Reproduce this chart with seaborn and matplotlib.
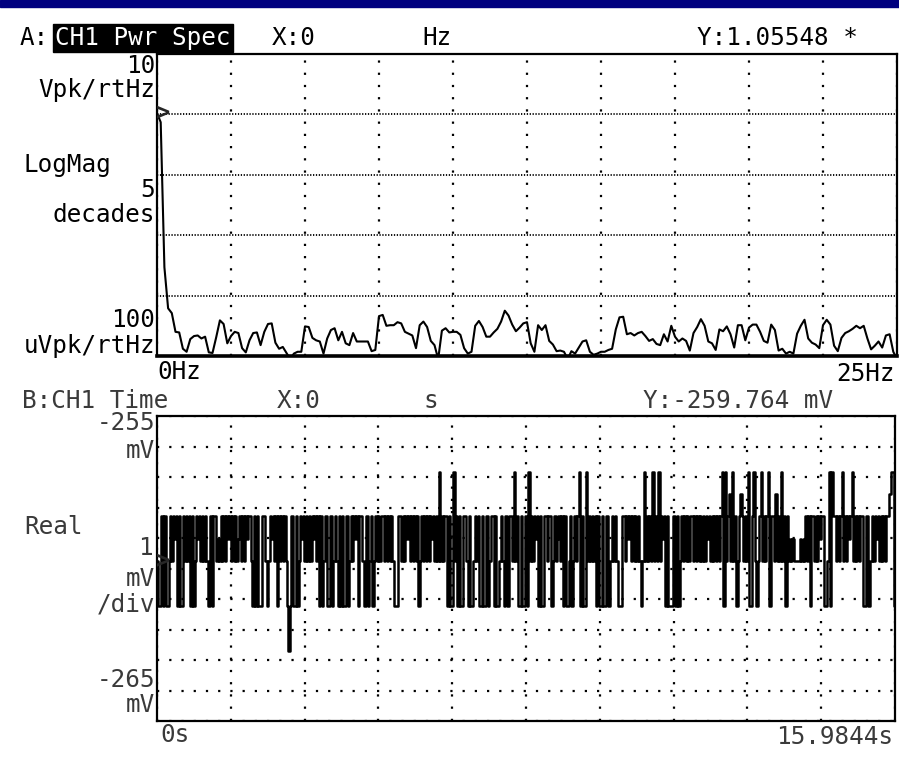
import numpy as np
import pandas as pd
import matplotlib
matplotlib.use("Agg")
import matplotlib.pyplot as plt
from matplotlib.patches import Rectangle
import seaborn as sns

# ---- trace A: CH1 power spectrum, 0..25 Hz ----
span_hz = 25.0
dc_level = 1.05548          # Vpk/rtHz at 0 Hz (cursor readout)
# log10(Vpk/rtHz) of the following lines, 0.125 Hz apart
spec_exp = [
    -0.13, -2.53, -3.21, -3.29, -3.60, -3.61, -3.88, -3.93, -3.72, -3.67,
    -3.66, -3.71, -3.68, -3.94, -3.95, -3.69, -3.41, -3.47, -3.79, -3.67,
    -3.60, -3.62, -3.87, -3.94, -3.74, -3.62, -3.61, -3.82, -3.60, -3.47,
    -3.46, -3.78, -3.88, -3.85, -3.95, -4.05, -3.96, -3.93, -3.93, -3.51,
    -3.52, -3.70, -3.74, -3.76, -3.96, -3.71, -3.57, -3.54, -3.74, -3.60,
    -3.79, -3.82, -3.62, -3.76, -3.76, -3.76, -3.76, -3.92, -3.90, -3.34,
    -3.32, -3.50, -3.49, -3.49, -3.44, -3.46, -3.60, -3.63, -3.66, -3.87,
    -3.49, -3.43, -3.52, -3.75, -3.82, -4.05, -3.58, -3.54, -3.61, -3.60,
    -3.60, -3.65, -3.87, -3.96, -3.93, -3.50, -3.42, -3.52, -3.68, -3.68,
    -3.61, -3.55, -3.43, -3.25, -3.33, -3.48, -3.59, -3.53, -3.46, -3.44,
    -3.79, -3.93, -3.49, -3.57, -3.49, -3.75, -3.81, -3.92, -3.91, -3.93,
    -4.05, -3.92, -3.96, -3.86, -3.76, -3.74, -3.93, -3.98, -3.96, -3.93,
    -3.93, -3.90, -3.88, -3.56, -3.36, -3.35, -3.64, -3.62, -3.66, -3.62,
    -3.60, -3.67, -3.75, -3.72, -3.80, -3.82, -3.64, -3.76, -3.50, -3.68,
    -3.76, -3.71, -3.75, -3.91, -3.62, -3.52, -3.39, -3.50, -3.76, -3.79,
    -3.90, -3.56, -3.59, -3.51, -3.64, -3.86, -3.49, -3.49, -3.74, -3.53,
    -3.48, -3.48, -3.60, -3.75, -3.78, -3.48, -3.57, -3.91, -3.88, -3.96,
    -3.93, -3.96, -3.63, -3.50, -3.40, -3.71, -3.78, -3.81, -3.87, -3.49,
    -3.40, -3.48, -3.83, -3.92, -3.70, -3.62, -3.59, -3.55, -3.50, -3.54,
    -3.50, -3.71, -3.89, -3.83, -3.76, -3.86, -3.66, -3.64, -3.93, -4.05,
]

# ---- trace B: CH1 time record, 0..15.9844 s ----
span_s = 15.9844
cursor_mv = -259.764        # value of the first sample (cursor readout)
lsb_mv = 0.735              # ADC step
# one digit per sample; digit 4 is the cursor level, each unit is one ADC step
time_codes = (
    "4226262246465626226464626246564646422626645464646564646456464656"
    "6426262226642465646264646420262262465646464656462624662262464262"
    "6226246465626642262462464646646464642226646465646464624646464656"
    "4648464662622846262266426224646226226246626224642622664846226226"
    "2846465626226646624645646262246246468262284646462622622622464642"
    "2266465646464642484646484648465626222662624646464664646464646564"
    "6464646828467484624676464822684246846468266474648462645454444545"
    "4646266464656622482866464684646568464646622622464656464646678824"
)

freq = np.arange(len(spec_exp) + 1) * span_hz / len(spec_exp)
mag = np.concatenate([[dc_level], 10.0 ** np.array(spec_exp)])
spec_df = pd.DataFrame({"freq_hz": freq, "mag": mag})

n = len(time_codes)
t = np.arange(n) * span_s / (n - 1)
volts = cursor_mv + (np.array([int(c) for c in time_codes]) - 4) * lsb_mv
time_df = pd.DataFrame({"t_s": t, "mv": volts})

sns.set_style("white")
plt.rcParams["font.family"] = ["DejaVu Sans Mono", "DejaVu Sans"]

W, H = 899, 757
fig = plt.figure(figsize=(W / 100, H / 100), dpi=100)
fig.patch.set_facecolor("white")


def fx(px):
    return px / W


def fy(py):
    return 1 - py / H


# title strip
fig.patches.append(Rectangle((0, fy(7)), 1, 7 / H, transform=fig.transFigure,
                             color="#00007f", zorder=0))

ax_a = fig.add_axes([fx(157), fy(356), fx(897) - fx(157), fy(54) - fy(356)])
ax_b = fig.add_axes([fx(157), fy(721), fx(895) - fx(157), fy(416) - fy(721)])

# --- trace A ---
ax_a.set_yscale("log")
sns.lineplot(data=spec_df, x="freq_hz", y="mag", ax=ax_a, color="black",
             lw=1.5, estimator=None, sort=False, legend=False)
ax_a.set_xlim(0, span_hz)
ax_a.set_ylim(1e-4, 10)
ax_a.minorticks_off()
ax_a.set_xticks(np.arange(0, span_hz + 0.01, span_hz / 10))
ax_a.set_yticks([1e-4, 1e-3, 1e-2, 1e-1, 1, 10])
ax_a.xaxis.grid(True, color="black", lw=1.6, ls=(0, (1, 4.5)))
ax_a.yaxis.grid(True, color="black", lw=1.3, ls=(0, (0.7, 0.9)))
ax_a.text(-0.05, dc_level, ">", ha="left", va="center", fontsize=17,
          fontweight="bold", clip_on=False)

# --- trace B ---
sns.lineplot(data=time_df, x="t_s", y="mv", ax=ax_b, color="black",
             lw=1.8, estimator=None, sort=False, legend=False,
             drawstyle="steps-post")
ax_b.set_xlim(0, span_s)
ax_b.set_ylim(-265, -255)
ax_b.set_xticks(np.linspace(0, span_s, 11))
ax_b.set_yticks(np.arange(-265, -254, 1))
ax_b.xaxis.grid(True, color="black", lw=1.6, ls=(0, (1, 4.5)))
ax_b.yaxis.grid(True, color="black", lw=1.6, ls=(0, (1, 4.5)))
ax_b.text(-0.03, cursor_mv, ">", ha="left", va="center", fontsize=17,
          fontweight="bold", clip_on=False)

for ax in (ax_a, ax_b):
    ax.set_xlabel("")
    ax.set_ylabel("")
    ax.tick_params(length=0, labelbottom=False, labelleft=False)
    ax.set_axisbelow(True)
    for s in ax.spines.values():
        s.set_color("black")
        s.set_linewidth(1.6)
ax_a.spines["bottom"].set_linewidth(2.6)

fs = 17.5
dark = "black"
dots = "#3a3a3a"


def label(px, py, s, ha="left", color=dark, **kw):
    fig.text(fx(px), fy(py), s, ha=ha, va="center", fontsize=fs, color=color, **kw)


# header and scale of trace A
label(20, 38, "A:")
label(55, 38, "CH1 Pwr Spec", color="white",
      bbox=dict(boxstyle="square,pad=0.1", fc="black", ec="black"))
label(272, 38, "X:0")
label(422, 38, "Hz")
label(697, 38, "Y:1.05548 *")
label(155, 66, "10", ha="right")
label(155, 90, "Vpk/rtHz", ha="right")
label(24, 165, "LogMag")
label(155, 190, "5", ha="right")
label(155, 215, "decades", ha="right")
label(155, 320, "100", ha="right")
label(155, 346, "uVpk/rtHz", ha="right")
label(157, 372, "0Hz")
label(895, 374, "25Hz", ha="right")

# header and scale of trace B
label(22, 401, "B:CH1 Time", color=dots)
label(277, 401, "X:0", color=dots)
label(423, 401, "s", color=dots)
label(643, 401, "Y:-259.764 mV", color=dots)
label(155, 423, "-255", ha="right", color=dots)
label(155, 451, "mV", ha="right", color=dots)
label(24, 527, "Real", color=dots)
label(153, 548, "1", ha="right", color=dots)
label(155, 579, "mV", ha="right", color=dots)
label(155, 604, "/div", ha="right", color=dots)
label(155, 680, "-265", ha="right", color=dots)
label(155, 705, "mV", ha="right", color=dots)
label(160, 735, "0s", color=dots)
label(893, 737, "15.9844s", ha="right", color=dots)

fig.savefig("out.png", dpi=100, facecolor="white")
